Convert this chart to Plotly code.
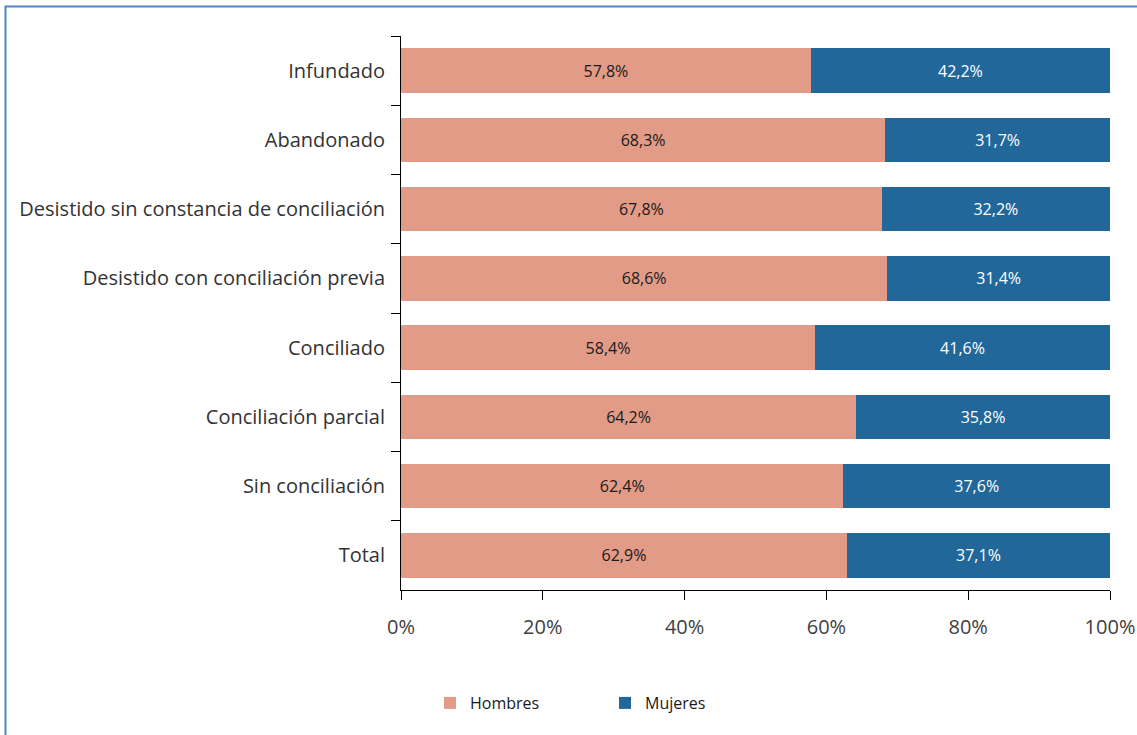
import plotly.graph_objects as go

categories = ["Infundado", "Abandonado", "Desistido sin constancia de conciliación",
              "Desistido con conciliación previa", "Conciliado", "Conciliación parcial",
              "Sin conciliación", "Total"]
hombres = [57.8, 68.3, 67.8, 68.6, 58.4, 64.2, 62.4, 62.9]
mujeres = [42.2, 31.7, 32.2, 31.4, 41.6, 35.8, 37.6, 37.1]
tick_vals = [0, 20, 40, 60, 80, 100]
tick_text = ["0%", "20%", "40%", "60%", "80%", "100%"]

def fmt(v):
    return f"{v:.1f}%".replace(".", ",")

FONT = "Open Sans"
W, H = 1137, 735
L = 401
T = 36
PW = 1110 - 401
PH = 590 - 36
R = W - L - PW
B = H - T - PH

fig = go.Figure()
fig.add_trace(go.Bar(
    y=categories, x=hombres, orientation="h", name="Hombres",
    marker=dict(color="#E19B87", line=dict(width=0)),
    text=[fmt(v) for v in hombres], textposition="inside", insidetextanchor="middle",
    textfont=dict(family=FONT, size=16, color="#1a1a1a"), hoverinfo="skip",
))
fig.add_trace(go.Bar(
    y=categories, x=mujeres, orientation="h", name="Mujeres",
    marker=dict(color="#22679A", line=dict(width=0)),
    text=[fmt(v) for v in mujeres], textposition="inside", insidetextanchor="middle",
    textfont=dict(family=FONT, size=16, color="#ffffff"), hoverinfo="skip",
))

def px_x(p):
    return (p - L) / PW

def px_y(p):
    return (T + PH - p) / PH

# outer frame
fig.add_shape(type="rect", xref="paper", yref="paper",
              x0=px_x(5.5), x1=px_x(W + 40),
              y0=px_y(H + 40), y1=px_y(6.5),
              line=dict(color="#4A86C4", width=2), fillcolor="rgba(0,0,0,0)", layer="below")

fig.update_layout(
    width=W, height=H, autosize=False,
    margin=dict(l=L, r=R, t=T, b=B, autoexpand=False),
    barmode="stack", bargap=0.36,
    paper_bgcolor="white", plot_bgcolor="white",
    font=dict(family=FONT, color="#333333"),
    uniformtext=dict(mode="show", minsize=10),
    showlegend=True,
    legend=dict(orientation="h", x=px_x(430), y=px_y(686),
                xanchor="left", yanchor="top", entrywidth=130, entrywidthmode="pixels",
                font=dict(family=FONT, size=16, color="#1a1a1a"), traceorder="normal"),
    xaxis=dict(range=[0, 100], tickmode="array", tickvals=tick_vals, ticktext=tick_text,
               automargin=False,
               showgrid=False, zeroline=False, showline=True, linecolor="#000000", linewidth=1,
               ticks="outside", ticklen=9, tickcolor="#000000", ticklabelstandoff=10,
               tickfont=dict(family=FONT, size=20, color="#404040"), fixedrange=True),
    yaxis=dict(autorange="reversed", automargin=False,
               showgrid=False, showline=True, linecolor="#000000", linewidth=1,
               ticks="outside", tickson="boundaries", ticklen=9, tickcolor="#000000",
               tickfont=dict(family=FONT, size=20, color="#333333"), ticklabelstandoff=11,
               fixedrange=True),
)

fig.write_html("out.html", config={"displayModeBar": False},
               post_script="document.body.style.margin='0';document.body.style.overflow='hidden';"
                           "document.documentElement.style.overflow='hidden';")
